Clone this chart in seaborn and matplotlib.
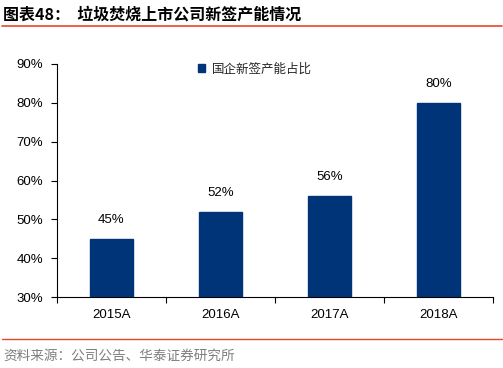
import matplotlib
matplotlib.use("Agg")
import matplotlib.pyplot as plt
import seaborn as sns
import pandas as pd
from matplotlib.lines import Line2D
from matplotlib.patches import Patch
from matplotlib.ticker import FixedLocator

categories = ["2015A", "2016A", "2017A", "2018A"]
values = [45, 52, 56, 80]
value_labels = ["45%", "52%", "56%", "80%"]
y_ticks = [30, 40, 50, 60, 70, 80, 90]
y_tick_labels = ["30%", "40%", "50%", "60%", "70%", "80%", "90%"]
series_name = "国企新签产能占比"
title = "图表48：  垃圾焚烧上市公司新签产能情况"
source = "资料来源：公司公告、华泰证券研究所"

sns.set_theme(style="white")
plt.rcParams['font.family'] = ['Liberation Sans', 'Noto Sans CJK SC', 'DejaVu Sans']
cjk = ['Noto Sans CJK SC', 'DejaVu Sans']

df = pd.DataFrame({"cat": categories, "val": values})
bar_color = "#003478"

fig = plt.figure(figsize=(5.03, 3.68), dpi=100)
ax = fig.add_axes([57/503, 1-297/368, (493-57)/503, (297-64)/368])
sns.barplot(data=df, x="cat", y="val", color=bar_color, width=0.40,
            saturation=1, ax=ax, edgecolor=bar_color)

ax.set_ylim(30, 90)
ax.set_xlim(-0.5, len(categories) - 0.5)
ax.set_yticks(y_ticks)
ax.set_yticklabels(y_tick_labels, fontsize=9.5, color="black")
ax.set_xlabel("")
ax.set_ylabel("")
ax.tick_params(axis="x", which="major", length=0, labelsize=9.5, pad=9, colors="black")
ax.xaxis.set_minor_locator(FixedLocator([i - 0.5 for i in range(len(categories) + 1)]))
ax.tick_params(axis="x", which="minor", length=4, width=0.8, color="black", direction="out", bottom=True)
ax.tick_params(axis="y", which="major", length=4, width=0.8, color="black", direction="out", left=True, pad=6)

for s in ["top", "right"]:
    ax.spines[s].set_visible(False)
for s in ["left", "bottom"]:
    ax.spines[s].set_color("black")
    ax.spines[s].set_linewidth(0.8)

for i, (v, lab) in enumerate(zip(values, value_labels)):
    ax.text(i, v + 3.3, lab, ha="center", va="bottom", fontsize=9.5, color="black")

handle = Patch(facecolor=bar_color, edgecolor=bar_color)
leg = ax.legend([handle], [series_name], loc="upper left", bbox_to_anchor=(0.297, 1.055),
                frameon=False, prop={'family': cjk, 'size': 9},
                handlelength=0.6, handleheight=0.6, handletextpad=0.5)

fig.text(3/503, 1-15/368, title, fontsize=11.5, fontweight="bold", family=cjk,
         ha="left", va="center", color="black")
fig.add_artist(Line2D([2/503, 502/503], [1-26/368, 1-26/368], color="#E8452C", lw=1.2))
fig.add_artist(Line2D([2/503, 502/503], [1-339/368, 1-339/368], color="#E8452C", lw=1.0))
fig.text(3/503, 1-356/368, source, fontsize=9.8, family=cjk, ha="left", va="center",
         color="#7F7F7F")

fig.savefig("out.png", dpi=100)
